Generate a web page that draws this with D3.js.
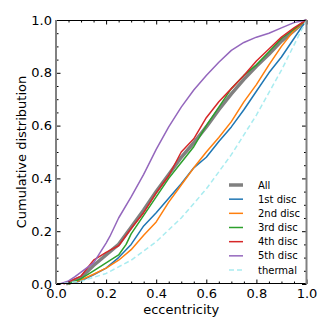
<!DOCTYPE html>
<html>
<head>
<meta charset="utf-8">
<script src="https://cdn.jsdelivr.net/npm/d3@7"></script>
<style>
  body{margin:0;background:#fff;}
  svg{display:block;font-family:"DejaVu Sans",sans-serif;}
</style>
</head>
<body>
<div id="chart"></div>
<script>
// valeurs : [excentricité, distribution cumulée]
var cdfAll = [[0.04,0],[0.1,0.025],[0.15,0.07],[0.2,0.11],[0.25,0.15],[0.3,0.215],[0.35,0.28],[0.4,0.35],[0.45,0.415],[0.5,0.48],[0.55,0.535],[0.6,0.595],[0.65,0.66],[0.7,0.72],[0.75,0.775],[0.8,0.825],[0.85,0.87],[0.9,0.92],[0.95,0.96],[1,1]];
var cdf1st = [[0.05,0],[0.1,0.012],[0.15,0.035],[0.2,0.06],[0.25,0.1],[0.3,0.15],[0.35,0.22],[0.4,0.27],[0.45,0.325],[0.5,0.38],[0.55,0.44],[0.6,0.48],[0.65,0.54],[0.7,0.595],[0.75,0.66],[0.8,0.73],[0.85,0.8],[0.9,0.86],[0.95,0.93],[1,1]];
var cdf2nd = [[0.05,0],[0.1,0.015],[0.15,0.037],[0.2,0.06],[0.25,0.09],[0.3,0.13],[0.35,0.185],[0.4,0.235],[0.45,0.31],[0.5,0.375],[0.55,0.44],[0.6,0.5],[0.65,0.555],[0.7,0.615],[0.75,0.69],[0.8,0.755],[0.85,0.83],[0.9,0.9],[0.95,0.96],[1,1]];
var cdf3rd = [[0.05,0],[0.1,0.02],[0.15,0.05],[0.2,0.08],[0.25,0.11],[0.28,0.15],[0.3,0.19],[0.35,0.26],[0.4,0.33],[0.45,0.4],[0.5,0.46],[0.55,0.52],[0.6,0.6],[0.65,0.67],[0.7,0.74],[0.75,0.79],[0.8,0.83],[0.85,0.88],[0.9,0.93],[0.95,0.965],[1,1]];
var cdf4th = [[0.03,0],[0.1,0.03],[0.15,0.09],[0.2,0.12],[0.22,0.13],[0.25,0.145],[0.3,0.21],[0.35,0.27],[0.4,0.345],[0.45,0.41],[0.5,0.5],[0.55,0.55],[0.6,0.63],[0.65,0.69],[0.7,0.74],[0.75,0.79],[0.8,0.845],[0.85,0.89],[0.9,0.935],[0.95,0.97],[1,1]];
var cdf5th = [[0.015,0],[0.05,0.012],[0.076,0.028],[0.1,0.045],[0.15,0.08],[0.2,0.155],[0.215,0.18],[0.25,0.25],[0.3,0.33],[0.35,0.415],[0.4,0.51],[0.45,0.595],[0.5,0.67],[0.55,0.735],[0.6,0.79],[0.65,0.84],[0.7,0.885],[0.75,0.915],[0.8,0.935],[0.85,0.95],[0.9,0.97],[0.95,0.99],[1,1]];
var cdfThermal = [[0,0],[0.1,0.01],[0.2,0.04],[0.3,0.09],[0.4,0.16],[0.5,0.25],[0.6,0.36],[0.7,0.49],[0.8,0.64],[0.9,0.81],[1,1]];

var seriesNames = ["All","1st disc","2nd disc","3rd disc","4th disc","5th disc","thermal"];
var seriesData = [cdfAll,cdf1st,cdf2nd,cdf3rd,cdf4th,cdf5th,cdfThermal];
var seriesColors = ["#808080","#1f77b4","#ff7f0e","#2ca02c","#d62728","#9467bd","#a9ecf0"];
var seriesWidths = [3.5,1.5,1.5,1.5,1.5,1.5,1.5];

var majorTicks = [0,0.2,0.4,0.6,0.8,1.0];

// dimensions (pas de "top" : c'est window.top)
var width = 332, height = 332;
var pLeft = 56, pTop = 20, pRight = 306.5, pBottom = 284;

var svg = d3.select("#chart").append("svg")
  .attr("width", width)
  .attr("height", height);

var x = d3.scaleLinear().domain([0,1]).range([pLeft,pRight]);
var y = d3.scaleLinear().domain([0,1]).range([pBottom,pTop]);

var minorTicks = d3.range(0,1.0001,0.05).filter(function(v){
  return Math.abs(v*5 - Math.round(v*5)) > 1e-6;
});

var fmt = d3.format(".1f");

// courbes
var line = d3.line()
  .x(function(d){ return x(d[0]); })
  .y(function(d){ return y(d[1]); });

svg.append("g").selectAll("path")
  .data(seriesData)
  .enter().append("path")
  .attr("d", line)
  .attr("fill","none")
  .attr("stroke", function(d,i){ return seriesColors[i]; })
  .attr("stroke-width", function(d,i){ return seriesWidths[i]; })
  .attr("stroke-dasharray", function(d,i){ return i==6 ? "5,3" : null; })
  .attr("stroke-linejoin","round");

// axes (ticks vers l'intérieur, sur les 4 côtés)
function styleAxis(g){
  g.select(".domain").remove();
  g.selectAll("line").attr("stroke","#000").attr("stroke-width",1);
  g.selectAll("text").attr("font-size",13).attr("fill","#000")
   .attr("font-family","DejaVu Sans, sans-serif");
}

svg.append("g").attr("transform","translate(0,"+pBottom+")")
  .call(d3.axisBottom(x).tickValues(majorTicks).tickSize(-4.5).tickPadding(5).tickFormat(fmt))
  .call(styleAxis);
svg.append("g").attr("transform","translate(0,"+pBottom+")")
  .call(d3.axisBottom(x).tickValues(minorTicks).tickSize(-2.5).tickFormat(""))
  .call(styleAxis);
svg.append("g").attr("transform","translate(0,"+pTop+")")
  .call(d3.axisTop(x).tickValues(majorTicks).tickSize(-4.5).tickFormat(""))
  .call(styleAxis);
svg.append("g").attr("transform","translate(0,"+pTop+")")
  .call(d3.axisTop(x).tickValues(minorTicks).tickSize(-2.5).tickFormat(""))
  .call(styleAxis);

svg.append("g").attr("transform","translate("+pLeft+",0)")
  .call(d3.axisLeft(y).tickValues(majorTicks).tickSize(-4.5).tickPadding(4).tickFormat(fmt))
  .call(styleAxis);
svg.append("g").attr("transform","translate("+pLeft+",0)")
  .call(d3.axisLeft(y).tickValues(minorTicks).tickSize(-2.5).tickFormat(""))
  .call(styleAxis);
svg.append("g").attr("transform","translate("+pRight+",0)")
  .call(d3.axisRight(y).tickValues(majorTicks).tickSize(-4.5).tickFormat(""))
  .call(styleAxis);
svg.append("g").attr("transform","translate("+pRight+",0)")
  .call(d3.axisRight(y).tickValues(minorTicks).tickSize(-2.5).tickFormat(""))
  .call(styleAxis);

// cadre
svg.append("line").attr("x1",pLeft).attr("x2",pRight).attr("y1",pTop+0.5).attr("y2",pTop+0.5)
  .attr("stroke","#000").attr("stroke-width",1);
svg.append("line").attr("x1",pLeft).attr("x2",pRight).attr("y1",pBottom-0.5).attr("y2",pBottom-0.5)
  .attr("stroke","#000").attr("stroke-width",1);
svg.append("line").attr("x1",pLeft).attr("x2",pLeft).attr("y1",pTop).attr("y2",pBottom)
  .attr("stroke","#808080").attr("stroke-width",2);
svg.append("line").attr("x1",pRight).attr("x2",pRight).attr("y1",pTop).attr("y2",pBottom)
  .attr("stroke","#808080").attr("stroke-width",2);

// titres des axes
svg.append("text")
  .attr("x",(pLeft+pRight)/2).attr("y",314)
  .attr("text-anchor","middle").attr("font-size",13)
  .text("eccentricity");
svg.append("text")
  .attr("transform","translate(26,"+((pTop+pBottom)/2)+") rotate(-90)")
  .attr("text-anchor","middle").attr("font-size",13)
  .text("Cumulative distribution");

// légende
var legend = svg.append("g");
var rowY = d3.scaleLinear().domain([0,6]).range([185,270]);
var rows = legend.selectAll("g").data(seriesNames).enter().append("g")
  .attr("transform", function(d,i){ return "translate(0,"+rowY(i)+")"; });
rows.append("line")
  .attr("x1",229).attr("x2",243).attr("y1",0).attr("y2",0)
  .attr("stroke", function(d,i){ return seriesColors[i]; })
  .attr("stroke-width", function(d,i){ return seriesWidths[i]; })
  .attr("stroke-dasharray", function(d,i){ return i==6 ? "5,3" : null; });
rows.append("text")
  .attr("x",258).attr("y",3.6)
  .attr("font-size",10)
  .text(function(d){ return d; });
</script>
</body>
</html>
